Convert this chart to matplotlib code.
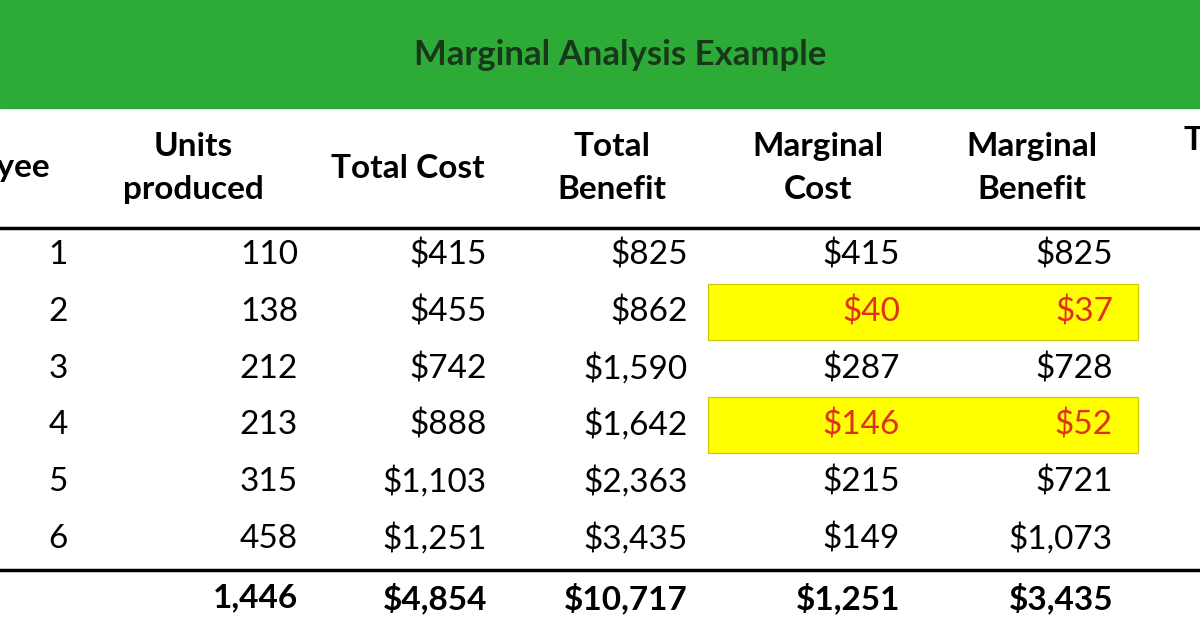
import matplotlib
matplotlib.use("Agg")
import matplotlib.pyplot as plt
from matplotlib.patches import Rectangle

title = "Marginal Analysis Example"
employees = ["1", "2", "3", "4", "5", "6"]
units = ["110", "138", "212", "213", "315", "458"]
total_cost = ["$415", "$455", "$742", "$888", "$1,103", "$1,251"]
total_benefit = ["$825", "$862", "$1,590", "$1,642", "$2,363", "$3,435"]
marginal_cost = ["$415", "$40", "$287", "$146", "$215", "$149"]
marginal_benefit = ["$825", "$37", "$728", "$52", "$721", "$1,073"]
highlight_rows = [1, 3]
totals = ["1,446", "$4,854", "$10,717", "$1,251", "$3,435"]

FONT = "Lato"
fig = plt.figure(figsize=(12, 6.27), dpi=100)
ax = fig.add_axes([0, 0, 1, 1])
ax.set_xlim(0, 1200); ax.set_ylim(627, 0); ax.axis("off")

ax.add_patch(Rectangle((0, 0), 1200, 108, color="#2eab36", zorder=0))
ax.text(620, 55, title, ha="center", va="center", fontsize=25, fontweight="bold",
        color="#17381a", family=FONT)

hs = 24
ax.text(50, 168, "Employee", ha="right", va="center", fontsize=hs, fontweight="bold", family=FONT, clip_on=True)
for x, t in [(193, "Units\nproduced"), (408, "Total Cost"), (612, "Total\nBenefit"),
             (818, "Marginal\nCost"), (1032, "Marginal\nBenefit")]:
    ax.text(x, 168, t, ha="center", va="center", fontsize=hs, fontweight="bold",
            family=FONT, linespacing=1.55)
ax.text(1183, 140, "Total", ha="left", va="center", fontsize=hs, fontweight="bold", family=FONT, clip_on=True)

ax.plot([0, 1200], [228, 228], color="black", lw=2.5)
ax.plot([0, 1200], [570, 570], color="black", lw=2.5)

ys = [255, 312, 369, 425, 482, 539]
for r in highlight_rows:
    ax.add_patch(Rectangle((708, ys[r] - 28), 430, 56, color="#ffff00", ec="#c8c800", lw=0.8, zorder=0))

ds = 24
cols = [(298, units), (487, total_cost), (688, total_benefit), (900, marginal_cost), (1113, marginal_benefit)]
for i, y in enumerate(ys):
    ax.text(58, y, employees[i], ha="center", va="center", fontsize=ds, family=FONT)
    for j, (x, vals) in enumerate(cols):
        c = "#e0301e" if (i in highlight_rows and j >= 3) else "black"
        ax.text(x, y, vals[i], ha="right", va="center", fontsize=ds, family=FONT, color=c)

for (x, _), t in zip(cols, totals):
    ax.text(x, 598, t, ha="right", va="center", fontsize=ds, fontweight="bold", family=FONT)

fig.savefig("out.png", dpi=100)
